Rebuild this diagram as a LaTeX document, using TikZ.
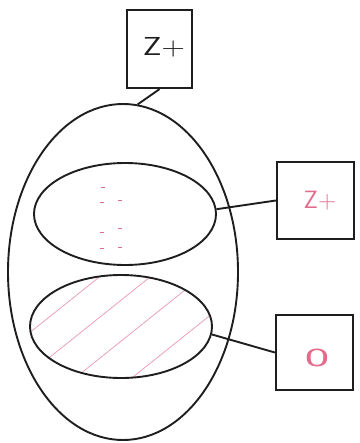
\documentclass[tikz,border=0pt]{standalone}
\usetikzlibrary{shapes.geometric}
\definecolor{pinkink}{RGB}{226,108,140}
\definecolor{hatchpink}{RGB}{232,150,172}
\definecolor{inkblack}{RGB}{30,30,30}
\begin{document}
\begin{tikzpicture}[x=1pt,y=-1pt,
  ink/.style={line width=1.9pt, inkblack},
  boxnode/.style={draw=inkblack, line width=2.3pt, rectangle, inner sep=0pt},
  ovalnode/.style={draw=inkblack, ellipse, line width=1.9pt, inner sep=0pt},
  lbl/.style={font=\sffamily\fontsize{26}{26}\selectfont, inner sep=0pt},
  dashmark/.style={pinkink, line width=0.9pt},
  hatchline/.style={hatchpink, line width=0.7pt}]
\useasboundingbox (0,0) rectangle (359,443);
% hatching of the lower inner oval
\begin{scope}
  \clip (121,326.5) ellipse [x radius=91, y radius=51.5];
  \foreach \x/\y in {33/330, 50/357, 85/370, 133/377}
    \draw[hatchline] (\x-100,\y+80) -- (\x+150,\y-120);
\end{scope}
% dotted marks in the upper inner oval
\foreach \x/\y in {103/187, 102/202, 120/200, 120/228, 102/232, 102/248, 120/247}
  \draw[dashmark] (\x-2,\y) -- (\x+2,\y);
% ovals
\node[ovalnode, minimum width=230pt, minimum height=336pt] (outer) at (123,272) {};
\node[ovalnode, minimum width=182pt, minimum height=102pt] (mid) at (125,214) {};
\node[ovalnode, minimum width=182pt, minimum height=103pt] (low) at (121,326.5) {};
% boxes
\node[boxnode, minimum width=65pt, minimum height=78pt] (tbox) at (159.5,49) {};
\node[boxnode, minimum width=77pt, minimum height=77pt] (mbox) at (315.5,200.5) {};
\node[boxnode, minimum width=77pt, minimum height=75pt] (bbox) at (314.5,352.5) {};
% labels
\node[lbl, text=inkblack] (tlabel) at (164,47) {\scalebox{1.25}[1]{Z+}};
\node[lbl, text=pinkink, font=\sffamily\fontsize{25}{25}\selectfont] (mlabel) at (320,201) {Z+};
\node[lbl, text=pinkink] (blabel) at (317,358) {\scalebox{2}[1]{0}};
% connectors
\draw[ink] (tbox.south) -- (outer.85);
\draw[ink] (mid.3) -- (mbox.west);
\draw[ink] (low.-5) -- (bbox.west);
\end{tikzpicture}
\end{document}
